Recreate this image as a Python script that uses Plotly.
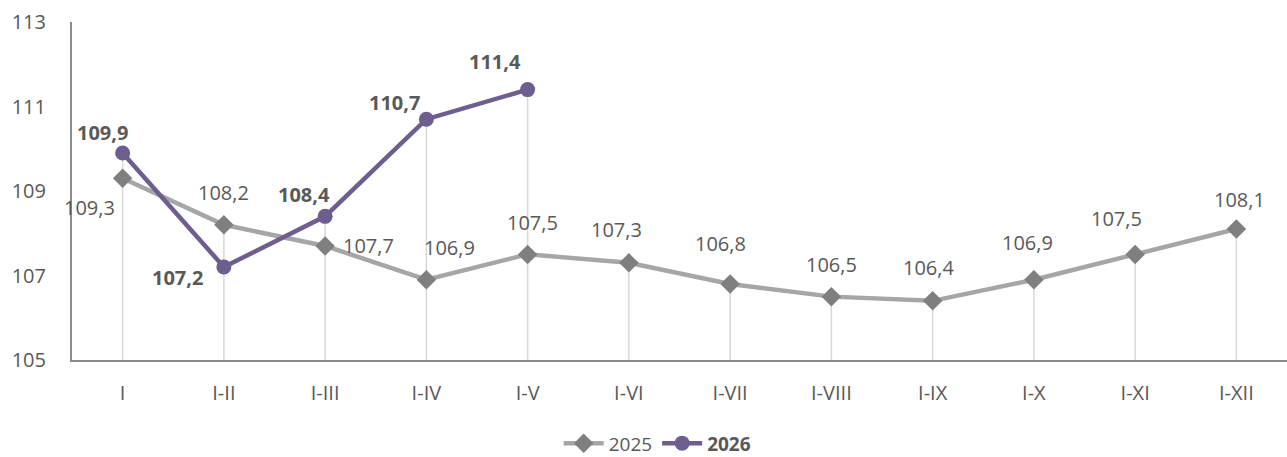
import plotly.graph_objects as go

categories = ["I", "I-II", "I-III", "I-IV", "I-V", "I-VI", "I-VII", "I-VIII", "I-IX", "I-X", "I-XI", "I-XII"]
values_2025 = [109.3, 108.2, 107.7, 106.9, 107.5, 107.3, 106.8, 106.5, 106.4, 106.9, 107.5, 108.1]
values_2026 = [109.9, 107.2, 108.4, 110.7, 111.4]
y_ticks = [105, 107, 109, 111, 113]

# label offsets in pixels (dx, dy), positive dy = up
off_2025 = [(-33, -29), (0, 32), (43, 0), (23, 32), (5, 32), (-12, 33),
            (-10, 40), (0, 32), (-4, 33), (-6, 37), (-19, 36), (3, 30)]
off_2026 = [(-20, 20), (-46, -10), (-21, 22), (-32, 17), (-33, 28)]

FONT = "Open Sans"
LABEL_C = "#595959"

fig = go.Figure()

# drop lines from each point down to the axis
dx, dy = [], []
for i, c in enumerate(categories):
    vals = [values_2025[i]] + ([values_2026[i]] if i < len(values_2026) else [])
    dx += [c, c, None]
    dy += [y_ticks[0], max(vals), None]
fig.add_trace(go.Scatter(x=dx, y=dy, mode="lines", line=dict(color="#D9D9D9", width=1.5),
                         hoverinfo="skip", showlegend=False))

fig.add_trace(go.Scatter(x=categories, y=values_2025, name="2025", mode="lines+markers",
                         line=dict(color="#A6A6A6", width=4.5),
                         marker=dict(symbol="diamond", size=15, color="#7F7F7F")))
fig.add_trace(go.Scatter(x=categories[:len(values_2026)], y=values_2026, name="<b>2026</b>",
                         mode="lines+markers",
                         line=dict(color="#6E5E8F", width=4.5),
                         marker=dict(symbol="circle", size=15, color="#6E5E8F")))

def fmt(v):
    return f"{v:.1f}".replace(".", ",")

for c, v, (ox, oy) in zip(categories, values_2025, off_2025):
    fig.add_annotation(x=c, y=v, text=fmt(v), showarrow=False, xshift=ox, yshift=oy,
                       xanchor="center", yanchor="middle",
                       font=dict(family=FONT, size=20, color=LABEL_C))
for c, v, (ox, oy) in zip(categories, values_2026, off_2026):
    fig.add_annotation(x=c, y=v, text="<b>" + fmt(v) + "</b>", showarrow=False, xshift=ox, yshift=oy,
                       xanchor="center", yanchor="middle",
                       font=dict(family=FONT, size=20, color=LABEL_C))

fig.update_layout(
    width=1287, height=457,
    margin=dict(l=72, r=0, t=22, b=97),
    plot_bgcolor="white", paper_bgcolor="white",
    font=dict(family=FONT, color=LABEL_C),
    showlegend=True,
    legend=dict(orientation="h", xref="container", yref="container",
                x=0.511, xanchor="center", y=0.03, yanchor="middle",
                font=dict(family=FONT, size=19, color=LABEL_C), itemwidth=40),
)
fig.update_xaxes(type="category", categoryorder="array", categoryarray=categories,
                 range=[-0.5, len(categories) - 0.5],
                 showgrid=False, showline=True, linecolor="#8C8C8C", linewidth=2,
                 ticks="", tickfont=dict(family=FONT, size=20, color=LABEL_C),
                 ticklabelstandoff=14, zeroline=False)
fig.update_yaxes(range=[y_ticks[0], y_ticks[-1]], tickvals=y_ticks,
                 ticktext=[str(t) for t in y_ticks],
                 showgrid=False, showline=True, linecolor="#8C8C8C", linewidth=2,
                 ticks="", tickfont=dict(family=FONT, size=20, color=LABEL_C),
                 ticklabelstandoff=20, zeroline=False)

fig.write_html("out.html", config={"displayModeBar": False},
               post_script="document.body.style.margin='0';document.body.style.overflow='hidden';")
